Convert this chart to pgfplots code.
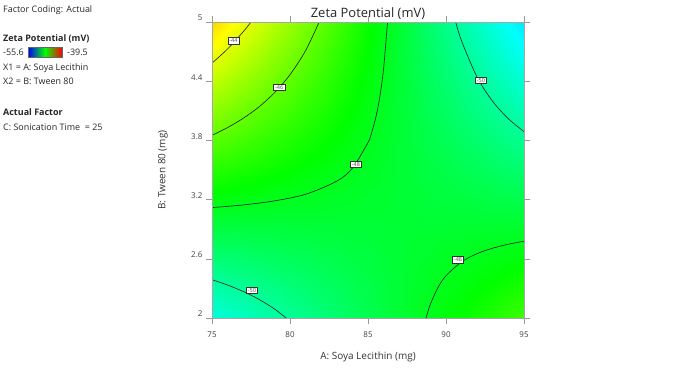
\documentclass[border=0pt]{standalone}
\usepackage{pgfplots}
\pgfplotsset{compat=1.18}
\usepackage{fontspec}
\setmainfont{Open Sans}
\pgfplotstableread{
x y z
75 2.0 -51.06
77 2.0 -50.61
79 2.0 -50.17
81 2.0 -49.72
83 2.0 -49.28
85 2.0 -48.83
87 2.0 -48.38
89 2.0 -47.94
91 2.0 -47.49
93 2.0 -47.05
95 2.0 -46.60
75 2.3 -50.24
77 2.3 -49.93
79 2.3 -49.62
81 2.3 -49.31
83 2.3 -49.00
85 2.3 -48.69
87 2.3 -48.38
89 2.3 -48.07
91 2.3 -47.76
93 2.3 -47.45
95 2.3 -47.14
75 2.6 -49.42
77 2.6 -49.25
79 2.6 -49.07
81 2.6 -48.90
83 2.6 -48.72
85 2.6 -48.55
87 2.6 -48.38
89 2.6 -48.20
91 2.6 -48.03
93 2.6 -47.85
95 2.6 -47.68
75 2.9 -48.60
77 2.9 -48.56
79 2.9 -48.52
81 2.9 -48.49
83 2.9 -48.45
85 2.9 -48.41
87 2.9 -48.37
89 2.9 -48.33
91 2.9 -48.30
93 2.9 -48.26
95 2.9 -48.22
75 3.2 -47.78
77 3.2 -47.88
79 3.2 -47.98
81 3.2 -48.07
83 3.2 -48.17
85 3.2 -48.27
87 3.2 -48.37
89 3.2 -48.47
91 3.2 -48.56
93 3.2 -48.66
95 3.2 -48.76
75 3.5 -46.96
77 3.5 -47.19
79 3.5 -47.43
81 3.5 -47.66
83 3.5 -47.90
85 3.5 -48.13
87 3.5 -48.36
89 3.5 -48.60
91 3.5 -48.83
93 3.5 -49.07
95 3.5 -49.30
75 3.8 -46.14
77 3.8 -46.51
79 3.8 -46.88
81 3.8 -47.25
83 3.8 -47.62
85 3.8 -47.99
87 3.8 -48.36
89 3.8 -48.73
91 3.8 -49.10
93 3.8 -49.47
95 3.8 -49.84
75 4.1 -45.32
77 4.1 -45.83
79 4.1 -46.33
81 4.1 -46.84
83 4.1 -47.34
85 4.1 -47.85
87 4.1 -48.36
89 4.1 -48.86
91 4.1 -49.37
93 4.1 -49.87
95 4.1 -50.38
75 4.4 -44.50
77 4.4 -45.14
79 4.4 -45.78
81 4.4 -46.43
83 4.4 -47.07
85 4.4 -47.71
87 4.4 -48.35
89 4.4 -48.99
91 4.4 -49.64
93 4.4 -50.28
95 4.4 -50.92
75 4.7 -43.68
77 4.7 -44.46
79 4.7 -45.24
81 4.7 -46.01
83 4.7 -46.79
85 4.7 -47.57
87 4.7 -48.35
89 4.7 -49.13
91 4.7 -49.90
93 4.7 -50.68
95 4.7 -51.46
75 5.0 -42.86
77 5.0 -43.77
79 5.0 -44.69
81 5.0 -45.60
83 5.0 -46.52
85 5.0 -47.43
87 5.0 -48.34
89 5.0 -49.26
91 5.0 -50.17
93 5.0 -51.09
95 5.0 -52.00
}\surface
\begin{document}
\begin{tikzpicture}[x=1bp,y=1bp]
\path[use as bounding box] (0,0) rectangle (689,370);
\begin{axis}[
  at={(212bp,52bp)}, anchor=south west,
  scale only axis, width=312bp, height=296bp,
  xmin=75, xmax=95, ymin=2, ymax=5,
  xtick={75,80,85,90,95},
  ytick={2,2.6,3.2,3.8,4.4,5},
  yticklabels={2,2.6,3.2,3.8,4.4,5},
  /pgf/number format/assume math mode=true,
  tick align=outside, major tick length=6bp,
  tick style={gray!80, line width=0.5pt},
  axis line style={gray!70, line width=0.4pt},
  ticklabel style={font=\fontsize{8}{9}\selectfont, text=black!75},
  yticklabel style={yshift=4bp},
  xticklabel style={yshift=-4bp},
  colormap={dx}{rgb255=(0,0,255) rgb255=(0,255,255) rgb255=(0,255,0) rgb255=(255,255,0) rgb255=(255,0,0)},
  point meta min=-55.6, point meta max=-39.5,
  title={Zeta Potential (mV)},
  title style={at={(axis description cs:0.5,1)}, anchor=base, yshift=-1bp, font=\fontsize{13}{15}\selectfont, text=black!85},
  xlabel={A: Soya Lecithin (mg)},
  ylabel={B: Tween 80 (mg)},
  xlabel style={at={(axis description cs:0.5,-0.132)}, anchor=center, font=\fontsize{10}{12}\selectfont, text=black!80},
  ylabel style={at={(axis description cs:-0.157,0.5)}, anchor=center, font=\fontsize{10}{12}\selectfont, text=black!80},
  axis on top,
]
\addplot[surf, shader=interp, mesh/cols=11, point meta=explicit] table[x=x, y=y, meta=z] {\surface};
% contours
\addplot[black!85, line width=0.65pt, smooth] coordinates {(75,4.583) (76,4.727) (77,4.901) (77.5,5.0)};
\addplot[black!85, line width=0.65pt, smooth] coordinates {(75,3.851) (76,3.930) (77,4.024) (78,4.138) (79,4.282) (80,4.466) (81,4.710) (81.87,5.0)};
\addplot[black!85, line width=0.65pt, smooth] coordinates {(75,3.119) (77,3.146) (79,3.187) (81,3.254) (83,3.387) (84,3.519) (85,3.779) (85.25,3.888) (85.5,4.033) (85.75,4.234) (86,4.529) (86.25,5.0)};
\addplot[black!85, line width=0.65pt, smooth] coordinates {(90.62,5.0) (91,4.807) (92,4.438) (93,4.194) (94,4.019) (95,3.889)};
\addplot[black!85, line width=0.65pt, smooth] coordinates {(88.72,2.0) (89,2.141) (89.5,2.313) (90,2.428) (91,2.569) (92,2.653) (93,2.708) (94,2.748) (95,2.778)};
\addplot[black!85, line width=0.65pt, smooth] coordinates {(75,2.388) (76,2.334) (77,2.269) (78,2.190) (79,2.092) (79.75,2.0)};
% contour labels
\addplot[only marks, mark=none, nodes near coords, point meta=explicit symbolic,
  nodes near coords style={anchor=center, draw=black!80, fill=white, line width=0.4pt, inner xsep=1.6pt, inner ysep=1.2pt, font=\fontsize{5.5}{6}\selectfont, text=black!70}]
  coordinates {(76.37,4.81)[-44] (79.31,4.34)[-46] (84.23,3.56)[-48] (92.24,4.41)[-50] (90.77,2.59)[-48] (77.56,2.28)[-50]};
\end{axis}
\begin{scope}[every node/.style={anchor=west, inner sep=0pt, text=black!85, font=\fontsize{9}{10}\selectfont}]
\node at (3,360) {Factor Coding: Actual};
\node[font=\fontsize{9}{10}\selectfont\bfseries] at (3,331) {Zeta Potential (mV)};
\node at (3,318) {-55.6};
\node at (67,318) {-39.5};
\node at (3,302) {X1 = A: Soya Lecithin};
\node at (3,289) {X2 = B: Tween 80};
\node[font=\fontsize{9}{10}\selectfont\bfseries] at (3,258) {Actual Factor};
\node at (3,243) {C: Sonication Time\ \ = 25};
\end{scope}
\shade[left color=blue, right color=green] (28,313) rectangle (45,323);
\shade[left color=green, right color=red] (45,313) rectangle (62,323);
\draw[black!60, line width=0.3pt] (28,313) rectangle (62,323);
\end{tikzpicture}
\end{document}
